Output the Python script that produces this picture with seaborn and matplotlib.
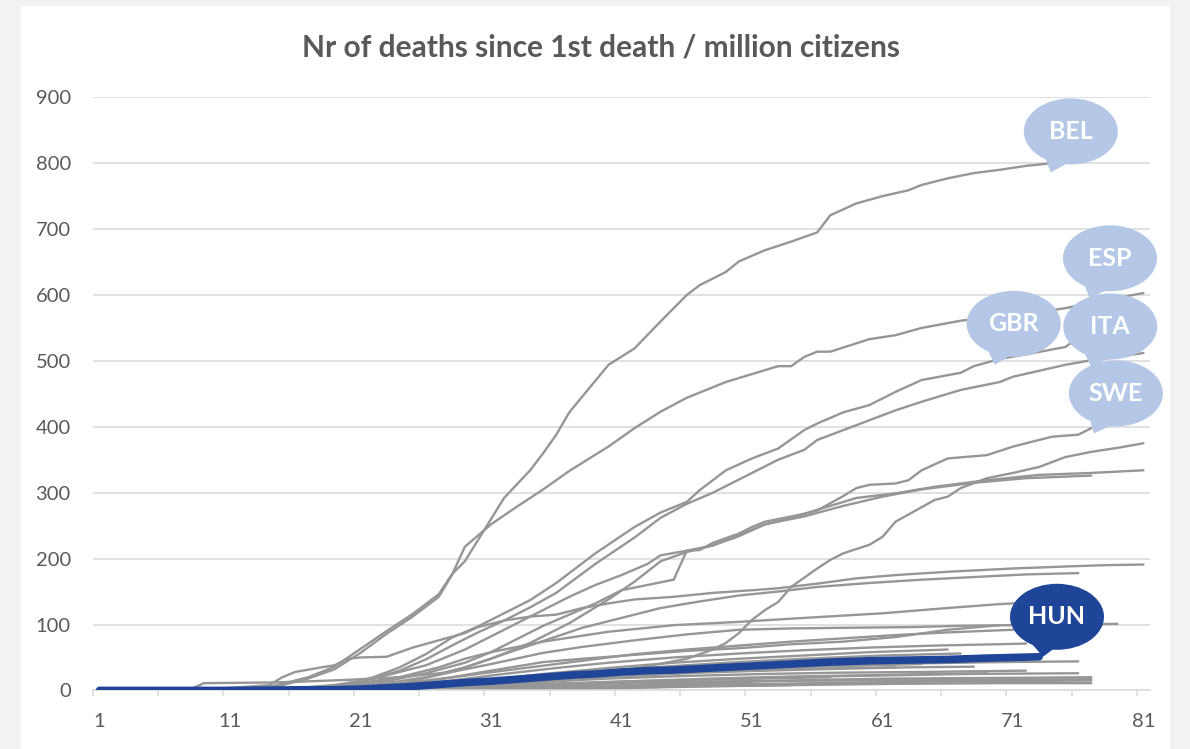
import numpy as np
import pandas as pd
import matplotlib
matplotlib.use("Agg")
import matplotlib.pyplot as plt
from matplotlib.patches import Ellipse, Polygon, Rectangle
import seaborn as sns

# Days since 1st death and deaths / million citizens
bel_days = [1, 13, 15, 17, 19, 21, 23, 25, 27, 28, 29, 31, 32, 34, 35, 36, 37, 39, 40, 42, 44, 46, 47, 49, 50, 52, 54, 56, 57, 59, 61, 63, 64, 66, 68, 70, 72, 74]
bel_vals = [0, 2, 10, 20, 36, 63, 90, 116, 146, 176, 196, 260, 292, 334, 360, 388, 422, 470, 494, 519, 560, 600, 615, 635, 651, 668, 681, 695, 721, 739, 750, 759, 767, 777, 785, 790, 796, 800]

esp_days = [1, 13, 15, 17, 19, 21, 23, 25, 27, 28, 29, 31, 33, 35, 37, 40, 42, 44, 46, 49, 52, 53, 54, 55, 56, 57, 60, 62, 64, 67, 70, 73, 75, 78, 81]
esp_vals = [0, 2, 8, 18, 32, 57, 86, 112, 142, 175, 218, 252, 279, 305, 333, 370, 398, 423, 444, 468, 486, 492, 492, 506, 514, 514, 533, 539, 550, 561, 568, 574, 580, 592, 603]

gbr_days = [1, 14, 17, 20, 22, 24, 26, 28, 30, 31, 34, 36, 39, 42, 44, 46, 47, 49, 51, 53, 55, 56, 58, 60, 62, 64, 67, 68, 70, 72, 75, 76, 78]
gbr_vals = [0, 1, 4, 10, 20, 35, 55, 80, 97, 107, 137, 163, 208, 248, 270, 286, 304, 334, 352, 367, 395, 405, 422, 433, 453, 471, 482, 492, 503, 510, 521, 535, 548]

ita_days = [1, 14, 17, 20, 22, 24, 26, 28, 30, 32, 34, 36, 39, 42, 44, 46, 48, 50, 52, 53, 55, 56, 58, 60, 62, 64, 67, 70, 71, 73, 75, 77, 79, 81]
ita_vals = [0, 1, 3, 8, 18, 30, 47, 68, 88, 106, 126, 148, 192, 232, 262, 283, 300, 320, 340, 350, 365, 380, 395, 410, 425, 438, 456, 468, 476, 485, 494, 501, 506, 512]

swe_days = [1, 16, 20, 24, 28, 31, 34, 37, 40, 42, 44, 46, 48, 50, 52, 54, 56, 58, 59, 60, 62, 63, 64, 66, 69, 71, 73, 74, 76, 77]
swe_vals = [0, 1, 3, 10, 28, 48, 72, 102, 138, 165, 196, 210, 220, 236, 252, 262, 273, 295, 307, 312, 314, 319, 334, 352, 357, 370, 380, 385, 388, 398]

l5_days = [1, 15, 19, 22, 26, 29, 31, 33, 35, 37, 39, 41, 43, 44, 46, 47, 48, 50, 51, 52, 55, 57, 59, 62, 65, 69, 73, 77, 81]
l5_vals = [0, 2, 8, 18, 38, 62, 82, 102, 122, 142, 160, 175, 192, 205, 212, 213, 224, 238, 248, 256, 268, 280, 292, 299, 309, 319, 327, 330, 334]

l6_days = [1, 16, 20, 23, 26, 29, 31, 33, 35, 37, 39, 41, 43, 45, 46, 48, 50, 52, 55, 58, 61, 64, 68, 72, 77]
l6_vals = [0, 2, 6, 14, 26, 42, 58, 78, 98, 115, 132, 152, 160, 168, 212, 220, 234, 252, 264, 280, 294, 305, 315, 322, 326]

rise_days = [1, 20, 26, 32, 37, 42, 46, 48, 49, 50, 51, 52, 53, 54, 56, 57, 58, 60, 61, 62, 64, 65, 66, 67, 69, 71, 73, 75, 77, 79, 81]
rise_vals = [0, 1, 4, 10, 20, 33, 48, 62, 72, 87, 107, 122, 134, 157, 185, 198, 208, 221, 233, 256, 278, 289, 294, 307, 322, 330, 339, 354, 362, 368, 375]

l7_days = [1, 9, 14, 15, 16, 18, 19, 20, 21, 23, 25, 27, 29, 30, 32, 34, 36, 38, 40, 42, 45, 48, 51, 53, 56, 59, 62, 66, 71, 75, 78, 81]
l7_vals = [0, 1, 8, 20, 28, 35, 38, 48, 50, 51, 65, 76, 87, 96, 106, 112, 115, 125, 132, 138, 142, 148, 152, 155, 162, 170, 175, 180, 185, 188, 190, 191]

l8_days = [1, 18, 22, 26, 29, 32, 35, 38, 41, 44, 47, 50, 53, 56, 60, 64, 68, 72, 76]
l8_vals = [0, 2, 8, 20, 35, 55, 75, 95, 110, 125, 135, 144, 150, 157, 163, 168, 172, 176, 178]

l9_days = [1, 16, 20, 24, 27, 29, 31, 33, 35, 38, 40, 43, 45, 50, 55, 61, 66, 70, 73]
l9_vals = [0, 3, 8, 20, 35, 48, 58, 66, 74, 83, 89, 95, 99, 104, 110, 117, 125, 131, 134]

l10_days = [1, 8, 9, 14, 16, 20, 24, 28, 31, 35, 38, 42, 46, 50, 54, 58, 63, 67, 71, 75, 79]
l10_vals = [0, 2, 11, 12, 13, 16, 20, 28, 40, 57, 66, 76, 85, 92, 94, 95, 96, 98, 99, 100, 101]

l11_days = [1, 16, 20, 24, 28, 31, 35, 38, 42, 46, 50, 54, 58, 62, 66, 70]
l11_vals = [0, 2, 5, 10, 20, 30, 43, 48, 54, 60, 64, 70, 74, 81, 92, 99]

l12_days = [1, 18, 22, 26, 30, 34, 38, 42, 46, 50, 54, 58, 62, 66, 71]
l12_vals = [0, 2, 6, 14, 25, 35, 45, 55, 62, 68, 74, 79, 84, 88, 92]

l13_days = [1, 20, 24, 28, 32, 36, 40, 45, 50, 55, 60, 65, 72]
l13_vals = [0, 3, 8, 15, 25, 34, 42, 50, 56, 61, 65, 68, 71]

l14_days = [1, 20, 25, 30, 35, 40, 45, 50, 55, 60, 66]
l14_vals = [0, 2, 6, 14, 25, 34, 42, 48, 53, 58, 62]

l15_days = [1, 20, 25, 30, 35, 40, 45, 50, 55, 61, 67]
l15_vals = [0, 2, 6, 12, 22, 30, 37, 43, 48, 53, 56]

l16_days = [1, 22, 27, 32, 37, 42, 47, 52, 58, 64, 70, 76]
l16_vals = [0, 2, 6, 12, 20, 28, 33, 36, 39, 41, 43, 44]

l17_days = [1, 22, 27, 32, 37, 42, 47, 52, 58, 63, 68]
l17_vals = [0, 1, 4, 9, 16, 22, 27, 30, 33, 35, 36]

l18_days = [1, 24, 30, 36, 42, 48, 54, 60, 65, 69]
l18_vals = [0, 1, 4, 9, 14, 18, 21, 23, 25, 26]

l19_days = [1, 26, 32, 38, 44, 50, 56, 62, 68, 76]
l19_vals = [0, 1, 4, 9, 14, 18, 21, 23, 25, 26]

l20_days = [1, 26, 32, 38, 44, 50, 56, 62, 70, 77]
l20_vals = [0, 1, 3, 6, 10, 13, 16, 18, 19, 20]

l21_days = [1, 28, 35, 42, 49, 56, 63, 70, 77]
l21_vals = [0, 1, 3, 6, 9, 11, 13, 14, 15]

l22_days = [1, 30, 38, 46, 54, 62, 70, 77]
l22_vals = [0, 1, 3, 6, 8, 10, 11, 11]

l23_days = [1, 30, 36, 42, 47, 51]
l23_vals = [0, 1, 4, 7, 10, 12]

l24_days = [1, 32, 40, 47, 54]
l24_vals = [0, 1, 3, 6, 8]

l25_days = [1, 20, 26, 32, 38, 44, 50, 56, 62]
l25_vals = [0, 2, 6, 14, 22, 27, 30, 33, 35]

l26_days = [1, 22, 28, 34, 40, 46, 52, 58, 64, 72]
l26_vals = [0, 2, 6, 12, 18, 22, 25, 27, 28, 30]

l27_days = [1, 18, 24, 30, 36, 42, 50, 58, 66, 77]
l27_vals = [0, 1, 4, 7, 10, 12, 14, 15, 16, 17]

l28_days = [1, 20, 26, 32, 38, 45]
l28_vals = [0, 1, 3, 5, 7, 8]

l29_days = [1, 22, 28, 34, 40, 46, 52, 57]
l29_vals = [0, 2, 5, 9, 13, 16, 18, 20]

l30_days = [1, 18, 24, 30, 36, 42, 48, 54, 60, 64]
l30_vals = [0, 2, 6, 12, 19, 26, 31, 35, 38, 40]

hun_days = [1, 11, 17, 19, 21, 23, 25, 27, 29, 31, 33, 35, 37, 39, 41, 43, 45, 47, 49, 51, 53, 55, 57, 60, 63, 66, 69, 71, 73]
hun_vals = [0, 0, 1, 1, 2, 4, 6, 9, 12, 14, 17, 20, 23, 25, 28, 30, 31, 33, 35, 37, 39, 41, 43, 45, 46, 47, 49, 50, 51]

x_labels = [1, 11, 21, 31, 41, 51, 61, 71, 81]
title = "Nr of deaths since 1st death / million citizens"

grey_series = {
    "BEL": (bel_days, bel_vals), "ESP": (esp_days, esp_vals),
    "GBR": (gbr_days, gbr_vals), "ITA": (ita_days, ita_vals),
    "SWE": (swe_days, swe_vals), "L5": (l5_days, l5_vals),
    "L6": (l6_days, l6_vals), "RISE": (rise_days, rise_vals),
    "L7": (l7_days, l7_vals), "L8": (l8_days, l8_vals),
    "L9": (l9_days, l9_vals), "L10": (l10_days, l10_vals),
    "L11": (l11_days, l11_vals), "L12": (l12_days, l12_vals),
    "L13": (l13_days, l13_vals), "L14": (l14_days, l14_vals),
    "L15": (l15_days, l15_vals), "L16": (l16_days, l16_vals),
    "L17": (l17_days, l17_vals), "L18": (l18_days, l18_vals),
    "L19": (l19_days, l19_vals), "L20": (l20_days, l20_vals),
    "L21": (l21_days, l21_vals), "L22": (l22_days, l22_vals),
    "L23": (l23_days, l23_vals), "L24": (l24_days, l24_vals),
    "L25": (l25_days, l25_vals), "L26": (l26_days, l26_vals),
    "L27": (l27_days, l27_vals), "L28": (l28_days, l28_vals),
    "L29": (l29_days, l29_vals), "L30": (l30_days, l30_vals),
}

rows = []
for name, (d, v) in grey_series.items():
    for dd, vv in zip(d, v):
        rows.append((name, dd, vv))
grey_df = pd.DataFrame(rows, columns=["country", "day", "value"])
hun_df = pd.DataFrame({"day": hun_days, "value": hun_vals})

sns.set_theme(style="white")
plt.rcParams["font.family"] = ["Lato", "DejaVu Sans"]

W, H = 1190, 749
fig = plt.figure(figsize=(W / 100, H / 100), dpi=100)
fig.patch.set_facecolor("#f2f2f2")
fig.add_artist(Rectangle((21 / W, 0), (1170 - 21) / W, (H - 6) / H,
                         transform=fig.transFigure, facecolor="white",
                         edgecolor="none", zorder=-5))

ax_l, ax_r, ax_t, ax_b = 93, 1150, 97.3, 690.4
ax = fig.add_axes([ax_l / W, 1 - ax_b / H, (ax_r - ax_l) / W, (ax_b - ax_t) / H])
ax.set_facecolor("white")

sns.lineplot(data=grey_df, x="day", y="value", units="country", estimator=None,
             color="#969696", lw=1.7, ax=ax, legend=False)
sns.lineplot(data=hun_df, x="day", y="value", color="#1f4599", lw=5.5,
             ax=ax, legend=False, solid_capstyle="round", zorder=4)

ax.set_xlim(0.5, 81.5)
ax.set_ylim(0, 900)
ax.set_yticks(range(0, 901, 100))
ax.set_xticks(x_labels)
ax.set_xticks(np.arange(0.5, 81, 5), minor=True)
ax.grid(axis="y", color="#d9d9d9", lw=1.1)
ax.set_axisbelow(True)
for s in ["left", "top", "right"]:
    ax.spines[s].set_visible(False)
ax.spines["bottom"].set_color("#d9d9d9")
ax.spines["bottom"].set_linewidth(1.1)
ax.tick_params(axis="y", length=0, pad=16, labelsize=14.5, labelcolor="#595959")
ax.tick_params(axis="x", which="major", length=0, pad=16, labelsize=14.5, labelcolor="#595959")
ax.tick_params(axis="x", which="minor", length=4.5, width=1.1, color="#d9d9d9", bottom=True)
ax.set_xlabel("")
ax.set_ylabel("")

fig.text(0.505, 0.937, title, ha="center", va="center", fontsize=21.5,
         fontweight="bold", color="#595959")

# speech-bubble callouts (tip in data units, bubble offset in pixels)
xpp = 81 / (ax_r - ax_l)
ypp = 900 / (ax_b - ax_t)
light = "#b4c7e7"
dark = "#1f4599"
callouts = [
    ("BEL", 73.9, 786, 20, 41, light),
    ("ESP", 76.9, 595, 20, 40, light),
    ("GBR", 69.6, 494, 19, 41, light),
    ("ITA", 77.0, 490, 19, 41, light),
    ("SWE", 77.2, 390, 22, 40, light),
    ("HUN", 73.3, 51, 14, 40, dark),
]
for i, (lab, tx, ty, dx, dy, col) in enumerate(callouts):
    cx = tx + dx * xpp
    cy = ty + dy * ypp
    z = 6 + i
    tail = Polygon([(cx - 26 * xpp, cy - 26 * ypp), (cx - 2 * xpp, cy - 31 * ypp), (tx, ty)],
                   closed=True, facecolor=col, edgecolor="none", zorder=z, clip_on=False)
    ell = Ellipse((cx, cy), width=94 * xpp, height=66 * ypp, facecolor=col,
                  edgecolor="none", zorder=z, clip_on=False)
    ax.add_patch(tail)
    ax.add_patch(ell)
    ax.text(cx, cy, lab, ha="center", va="center", color="white", fontsize=18,
            fontweight="bold", zorder=z + 0.5, clip_on=False)

fig.savefig("out.png", dpi=100, facecolor=fig.get_facecolor())
